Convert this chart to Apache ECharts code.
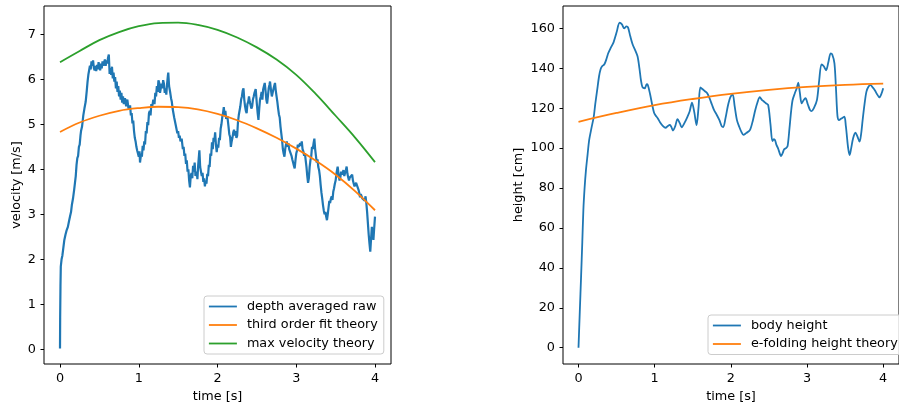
<!DOCTYPE html>
<html>
<head>
<meta charset="utf-8">
<script src="https://cdn.jsdelivr.net/npm/echarts@6/dist/echarts.min.js"></script>
<style>
html,body{margin:0;padding:0;background:#fff;}
#chart{width:899px;height:409px;}
</style>
</head>
<body>
<div id="chart"></div>
<script>
// ---- Data ----
const velTicks = [0, 1, 2, 3, 4, 5, 6, 7];
const timeTicks = [0, 1, 2, 3, 4];
const heightTicks = [0, 20, 40, 60, 80, 100, 120, 140, 160];

// depth averaged raw velocity [t (s), v (m/s)]
const depthAveragedRaw = [
[0.000,0.02],[0.002,0.70],[0.006,1.40],[0.010,1.84],[0.020,2.00],[0.030,2.08],[0.040,2.22],[0.055,2.43],[0.070,2.55],[0.085,2.65],
[0.100,2.72],[0.115,2.85],[0.127,2.95],[0.140,3.05],[0.150,3.20],[0.165,3.35],[0.180,3.55],[0.190,3.70],[0.200,3.85],[0.210,4.10],
[0.220,4.25],[0.230,4.30],[0.240,4.50],[0.250,4.55],[0.260,4.75],[0.267,4.85],[0.280,4.95],[0.296,5.20],[0.310,5.35],[0.326,5.50],
[0.340,5.75],[0.350,5.95],[0.360,6.10],[0.370,6.20],[0.380,6.30],[0.390,6.22],[0.400,6.40],[0.410,6.30],[0.420,6.42],[0.430,6.25],
[0.440,6.20],[0.450,6.30],[0.460,6.18],[0.470,6.32],[0.480,6.22],[0.490,6.38],[0.500,6.28],[0.510,6.20],[0.520,6.35],[0.530,6.24],
[0.540,6.40],[0.550,6.30],[0.560,6.38],[0.570,6.44],[0.580,6.30],[0.590,6.42],[0.600,6.35],[0.610,6.48],[0.620,6.55],[0.630,6.12],
[0.640,6.25],[0.650,6.10],[0.660,6.28],[0.670,6.02],[0.680,6.15],[0.690,5.95],[0.700,6.05],[0.710,5.80],[0.720,5.95],[0.730,5.72],
[0.740,5.85],[0.750,5.62],[0.760,5.75],[0.770,5.55],[0.780,5.70],[0.790,5.48],[0.800,5.62],[0.810,5.45],[0.825,5.58],[0.840,5.40],
[0.855,5.55],[0.870,5.35],[0.890,5.42],[0.900,5.20],[0.910,5.25],[0.920,5.02],[0.930,5.08],[0.940,4.85],[0.950,4.70],[0.960,4.62],
[0.970,4.50],[0.980,4.42],[0.990,4.35],[1.000,4.28],[1.010,4.40],[1.016,4.15],[1.030,4.35],[1.040,4.28],[1.050,4.52],[1.060,4.42],
[1.070,4.62],[1.080,4.55],[1.090,4.85],[1.100,4.80],[1.110,5.05],[1.120,4.98],[1.130,5.25],[1.140,5.30],[1.150,5.20],[1.160,5.45],
[1.170,5.38],[1.185,5.55],[1.200,5.45],[1.210,5.70],[1.220,5.62],[1.230,5.85],[1.240,5.72],[1.250,5.98],[1.260,5.92],[1.270,5.70],
[1.280,5.72],[1.290,5.90],[1.300,5.80],[1.310,5.98],[1.320,5.90],[1.330,5.70],[1.340,5.80],[1.350,5.66],[1.360,5.90],[1.370,6.08],
[1.375,6.15],[1.385,5.85],[1.400,5.70],[1.410,5.58],[1.420,5.50],[1.430,5.35],[1.440,5.38],[1.450,5.15],[1.460,5.18],[1.470,4.98],
[1.480,5.02],[1.490,4.80],[1.500,4.85],[1.510,4.70],[1.520,4.75],[1.530,4.62],[1.545,4.68],[1.560,4.45],[1.570,4.50],[1.580,4.30],
[1.590,4.35],[1.600,4.12],[1.610,4.20],[1.620,3.95],[1.630,4.00],[1.640,3.75],[1.650,3.60],[1.660,3.85],[1.670,3.92],[1.680,3.80],
[1.690,4.08],[1.700,3.95],[1.710,4.15],[1.720,3.85],[1.735,3.95],[1.745,3.78],[1.755,4.10],[1.770,4.42],[1.780,4.05],[1.790,3.95],
[1.800,3.85],[1.810,3.92],[1.820,3.72],[1.830,3.80],[1.840,3.62],[1.850,3.75],[1.860,3.68],[1.870,3.90],[1.880,3.85],[1.890,4.10],
[1.900,4.05],[1.910,4.35],[1.920,4.30],[1.930,4.60],[1.940,4.45],[1.950,4.70],[1.960,4.62],[1.970,4.82],[1.980,4.55],[1.990,4.38],
[2.000,4.55],[2.010,4.48],[2.020,4.70],[2.030,4.65],[2.040,4.90],[2.050,5.00],[2.060,5.15],[2.070,5.25],[2.080,5.38],[2.090,5.20],
[2.100,5.30],[2.110,5.12],[2.125,5.18],[2.140,4.95],[2.150,4.78],[2.160,4.72],[2.170,4.50],[2.180,4.62],[2.190,4.70],[2.200,4.82],
[2.210,4.88],[2.220,4.75],[2.230,4.85],[2.240,4.70],[2.250,4.75],[2.260,5.05],[2.270,5.20],[2.280,5.30],[2.290,5.40],[2.300,5.55],
[2.310,5.62],[2.320,5.75],[2.330,5.80],[2.340,5.55],[2.350,5.40],[2.360,5.30],[2.370,5.25],[2.380,5.45],[2.390,5.50],[2.400,5.62],
[2.410,5.50],[2.420,5.48],[2.430,5.35],[2.440,5.40],[2.450,5.55],[2.460,5.62],[2.470,5.70],[2.485,5.78],[2.500,5.45],[2.510,5.25],
[2.520,5.10],[2.530,5.35],[2.540,5.55],[2.550,5.62],[2.560,5.72],[2.570,5.55],[2.580,5.78],[2.590,5.85],[2.600,5.92],[2.610,5.75],
[2.620,5.55],[2.630,5.46],[2.640,5.62],[2.650,5.80],[2.660,5.88],[2.667,5.95],[2.680,5.75],[2.690,5.62],[2.700,5.65],[2.710,5.78],
[2.720,5.85],[2.730,5.92],[2.740,5.75],[2.750,5.62],[2.760,5.50],[2.770,5.35],[2.780,5.22],[2.790,5.15],[2.800,4.95],[2.810,4.80],
[2.820,4.65],[2.830,4.45],[2.840,4.35],[2.850,4.28],[2.860,4.45],[2.870,4.55],[2.880,4.62],[2.890,4.50],[2.900,4.58],[2.910,4.45],
[2.920,4.40],[2.930,4.36],[2.940,4.30],[2.950,4.22],[2.960,4.15],[2.970,4.08],[2.980,4.02],[2.990,4.20],[3.000,4.35],[3.010,4.42],
[3.020,4.55],[3.030,4.50],[3.040,4.48],[3.050,4.58],[3.060,4.52],[3.070,4.62],[3.080,4.45],[3.090,4.40],[3.100,4.30],[3.110,4.36],
[3.120,4.20],[3.130,4.05],[3.140,3.85],[3.150,3.70],[3.160,3.80],[3.170,4.05],[3.180,4.20],[3.190,4.28],[3.200,4.50],[3.210,4.45],
[3.220,4.58],[3.230,4.68],[3.240,4.45],[3.250,4.30],[3.260,4.15],[3.270,4.22],[3.280,4.05],[3.290,3.98],[3.300,3.85],[3.310,3.65],
[3.320,3.48],[3.330,3.35],[3.340,3.20],[3.350,3.08],[3.360,3.00],[3.370,3.05],[3.380,2.95],[3.390,2.87],[3.400,3.00],[3.410,3.15],
[3.420,3.30],[3.430,3.25],[3.440,3.35],[3.450,3.40],[3.460,3.32],[3.470,3.50],[3.480,3.58],[3.490,3.68],[3.500,3.75],[3.510,3.90],
[3.520,4.00],[3.526,4.06],[3.540,3.85],[3.550,3.75],[3.560,3.82],[3.570,3.95],[3.580,3.88],[3.590,3.92],[3.600,3.98],[3.610,3.85],
[3.620,3.92],[3.630,3.98],[3.640,4.06],[3.650,3.90],[3.660,3.82],[3.670,3.75],[3.680,3.82],[3.690,3.78],[3.700,3.85],[3.710,3.88],
[3.720,3.75],[3.730,3.68],[3.740,3.62],[3.750,3.60],[3.760,3.70],[3.770,3.65],[3.780,3.68],[3.790,3.55],[3.800,3.48],[3.810,3.38],
[3.820,3.45],[3.830,3.40],[3.840,3.35],[3.850,3.32],[3.860,3.38],[3.870,3.30],[3.880,3.40],[3.890,3.25],[3.900,3.05],[3.910,2.80],
[3.920,2.55],[3.930,2.35],[3.940,2.17],[3.950,2.45],[3.960,2.72],[3.970,2.55],[3.980,2.43],[3.990,2.70],[4.000,2.95]
];

// third order fit theory
const thirdOrderFit = [
[0,4.83],[0.25,5.04],[0.5,5.19],[0.75,5.30],[1.0,5.36],[1.25,5.39],[1.5,5.38],[1.75,5.33],[2.0,5.23],
[2.25,5.09],[2.5,4.91],[2.75,4.70],[3.0,4.46],[3.25,4.19],[3.5,3.88],[3.75,3.51],[4.0,3.09]
];

// max velocity theory
const maxVelocity = [
[0,6.38],[0.25,6.63],[0.5,6.87],[0.75,7.05],[1.0,7.18],[1.25,7.25],[1.5,7.26],[1.75,7.21],[2.0,7.10],
[2.25,6.93],[2.5,6.71],[2.75,6.44],[3.0,6.10],[3.25,5.67],[3.5,5.19],[3.75,4.70],[4.0,4.16]
];

// body height [t (s), h (cm)]
const bodyHeight = [
[0,0],[0.017,18],[0.034,35.6],[0.05,53],[0.064,69],[0.08,80],[0.098,89],[0.12,97],[0.14,104],[0.17,110],
[0.2,115.7],[0.22,122],[0.245,129],[0.27,136],[0.29,139.5],[0.31,141],[0.34,142],[0.37,145],[0.39,147.5],[0.42,150],
[0.46,153],[0.5,158],[0.54,162.8],[0.57,162],[0.6,160],[0.63,161],[0.65,160.5],[0.68,156],[0.71,152],[0.745,149],
[0.775,146],[0.8,140],[0.82,134],[0.84,130.5],[0.87,130],[0.895,132],[0.91,131.6],[0.94,127],[0.966,122],[0.99,118],
[1.01,116.5],[1.04,115],[1.07,113],[1.11,111],[1.144,110.2],[1.17,111],[1.2,111.6],[1.22,110.5],[1.24,108.8],[1.27,111],
[1.3,114.5],[1.33,112.5],[1.355,110.4],[1.39,112.5],[1.43,115.7],[1.46,118.5],[1.49,122.8],[1.52,118],[1.55,111.5],[1.575,120],
[1.6,130.4],[1.63,129.5],[1.66,128.5],[1.69,127.5],[1.72,125],[1.75,122],[1.78,119],[1.81,117],[1.85,114],[1.88,111],
[1.9,110.5],[1.93,115],[1.96,121],[1.98,124],[2.0,126],[2.025,126.8],[2.05,121],[2.08,114],[2.11,110.7],[2.14,108],
[2.165,106.6],[2.2,107.5],[2.25,109],[2.29,114],[2.32,119],[2.35,123],[2.38,125.5],[2.41,124],[2.43,123.5],[2.46,122.5],
[2.49,121.6],[2.52,112],[2.546,103.5],[2.565,104.5],[2.58,104],[2.6,101.5],[2.62,99.9],[2.645,97],[2.66,96],[2.68,97.5],
[2.70,99.4],[2.725,100],[2.745,101],[2.77,110],[2.79,118],[2.81,124],[2.84,127.5],[2.865,130],[2.885,132.8],[2.905,128],
[2.93,122.4],[2.955,124],[2.98,125],[3.01,122],[3.04,119],[3.06,118.5],[3.09,120],[3.13,124],[3.16,134],[3.19,142],
[3.22,141],[3.25,139],[3.28,143],[3.31,147.5],[3.33,147],[3.36,142.5],[3.38,130],[3.40,116],[3.42,114],[3.45,114.8],
[3.49,115.7],[3.51,111],[3.52,107.4],[3.54,100],[3.56,96.5],[3.58,100],[3.605,104.9],[3.635,107.7],[3.66,106],[3.69,103.2],
[3.71,107],[3.73,114],[3.755,122],[3.78,128.3],[3.81,131],[3.835,131.6],[3.86,130.5],[3.89,129],[3.92,127],[3.95,125.4],
[3.975,127],[4.0,130]
];

// e-folding height theory
const eFoldingHeight = [
[0,113.2],[0.5,117.6],[1.0,121.5],[1.5,124.6],[2.0,127.2],[2.5,129.2],[3.0,130.7],[3.5,131.7],[4.0,132.3]
];

// ---- Chart ----
const FONT = 'DejaVu Sans';
const FS = 12.8;
const C_BLUE = '#1f77b4', C_ORANGE = '#ff7f0e', C_GREEN = '#2ca02c';

function xAxisCfg(gridIndex, min, max) {
  return {
    type: 'value', gridIndex, min, max,
    name: 'time [s]', nameLocation: 'middle', nameGap: 25,
    nameTextStyle: { fontFamily: FONT, fontSize: FS, color: '#000' },
    axisLine: { show: false, onZero: false },
    axisTick: { show: true, inside: false, length: 3.5, lineStyle: { color: '#000', width: 1 }, customValues: timeTicks },
    axisLabel: { fontFamily: FONT, fontSize: FS, color: '#000', margin: 8, customValues: timeTicks },
    splitLine: { show: false }
  };
}
function yAxisCfg(gridIndex, min, max, name, ticks, gap) {
  return {
    type: 'value', gridIndex, min, max,
    name, nameLocation: 'middle', nameGap: gap,
    nameTextStyle: { fontFamily: FONT, fontSize: FS, color: '#000' },
    axisLine: { show: false, onZero: false },
    axisTick: { show: true, inside: false, length: 3.5, lineStyle: { color: '#000', width: 1 }, customValues: ticks },
    axisLabel: { fontFamily: FONT, fontSize: FS, color: '#000', margin: 8, customValues: ticks },
    splitLine: { show: false }
  };
}
function lineSeries(name, data, color, xi, smooth, width) {
  return {
    name, type: 'line', data, xAxisIndex: xi, yAxisIndex: xi,
    showSymbol: false, symbol: 'none', smooth: smooth || false,
    lineStyle: { color, width: width || 1.8 }, itemStyle: { color },
    emphasis: { disabled: true }, z: 2
  };
}
const legendBase = {
  orient: 'vertical',
  itemWidth: 28, itemHeight: 13, itemGap: 5.5,
  backgroundColor: 'rgba(255,255,255,0.8)',
  borderColor: '#cccccc', borderWidth: 1, borderRadius: 3,
  itemStyle: { opacity: 0, borderWidth: 0 },
  lineStyle: { width: 1.8 },
  textStyle: { fontFamily: FONT, fontSize: FS, color: '#000', padding: [0, 0, 0, 5] },
  selectedMode: false
};

const chart = echarts.init(document.getElementById('chart'), null, { renderer: 'canvas' });
chart.setOption({
  animation: false,
  backgroundColor: '#fff',
  grid: [
    { left: 44, top: 6, width: 347, height: 358, show: true, borderColor: '#000', borderWidth: 1, backgroundColor: 'transparent' },
    { left: 563, top: 6, width: 347, height: 358, show: true, borderColor: '#000', borderWidth: 1, backgroundColor: 'transparent' }
  ],
  xAxis: [ xAxisCfg(0, -0.2032, 4.2032), xAxisCfg(1, -0.2034, 4.2075) ],
  yAxis: [
    yAxisCfg(0, -0.3267, 7.629, 'velocity [m/s]', velTicks, 21),
    yAxisCfg(1, -8.17, 171.2, 'height [cm]', heightTicks, 38)
  ],
  legend: [
    Object.assign({}, legendBase, { left: 204, top: 296, padding: [4, 6, 4, 4],
      data: ['depth averaged raw', 'third order fit theory', 'max velocity theory'] }),
    Object.assign({}, legendBase, { left: 708, top: 315, padding: [4, 20, 4, 4],
      data: ['body height', 'e-folding height theory'] })
  ],
  series: [
    lineSeries('depth averaged raw', depthAveragedRaw, C_BLUE, 0, false, 2.2),
    lineSeries('third order fit theory', thirdOrderFit, C_ORANGE, 0, 0.4),
    lineSeries('max velocity theory', maxVelocity, C_GREEN, 0, 0.4),
    lineSeries('body height', bodyHeight, C_BLUE, 1, 0.3),
    lineSeries('e-folding height theory', eFoldingHeight, C_ORANGE, 1, 0.4)
  ]
});
</script>
</body>
</html>
